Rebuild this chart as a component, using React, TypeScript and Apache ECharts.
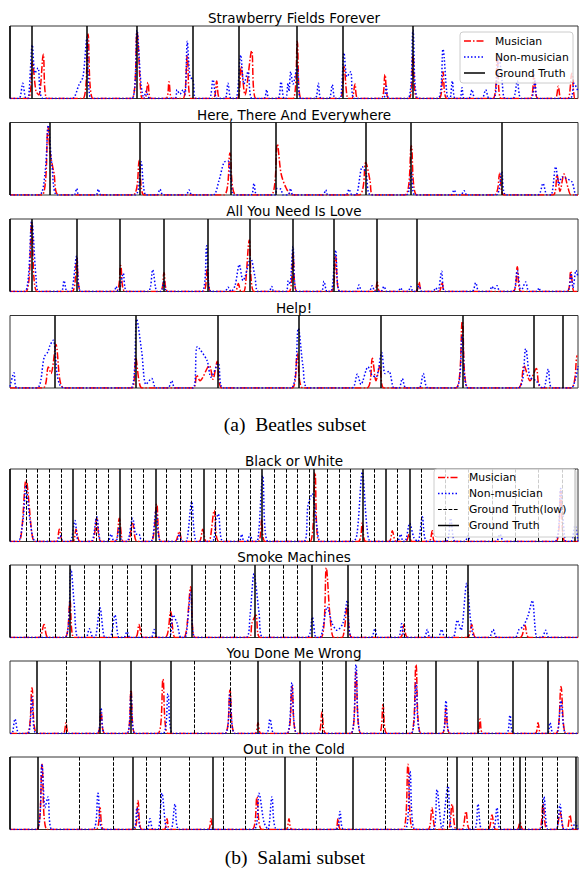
import React, { useEffect, useRef } from 'react';
import * as echarts from 'echarts';

type Pt = [number, number];

const songTitles = [
  'Strawberry Fields Forever',
  'Here, There And Everywhere',
  'All You Need Is Love',
  'Help!',
  'Black or White',
  'Smoke Machines',
  'You Done Me Wrong',
  'Out in the Cold',
];

// ---------- Strawberry Fields Forever ----------
const sffTruth = [0, 22, 77, 127, 183, 229, 287, 333, 403];
const sffLow: number[] = [];
const sffMusician: Pt[] = [
  [0, 0], [18, 0], [22.3, 0.51], [26, 0.1], [29, 0.05], [33.3, 0.61], [37, 0],
  [73, 0], [78, 0.89], [83, 0], [122, 0], [127, 0.92], [132, 0], [135, 0], [138, 0.22], [141, 0],
  [156, 0], [159, 0.23], [162, 0], [173, 0], [177.3, 0.6], [181, 0], [203, 0], [206.7, 0.24], [210, 0],
  [227, 0], [231, 0.44], [235, 0.05], [241.7, 0.66], [246, 0], [283, 0], [287.3, 0.79], [291, 0],
  [330, 0], [334, 0.44], [338, 0], [342, 0], [345, 0.2], [348, 0], [371, 0], [375, 0.33], [379, 0],
  [399, 0], [403, 0.6], [407, 0], [429, 0], [433, 0.37], [437, 0], [483, 0], [487.3, 0.6], [491, 0],
  [520, 0], [524, 0.33], [528, 0], [545, 0], [548.3, 0.17], [551, 0], [558, 0], [561.7, 0.35], [565, 0], [568, 0],
];
const sffNonMusician: Pt[] = [
  [0, 0], [9, 0], [12.7, 0.21], [16, 0], [18, 0], [22.3, 0.74], [25, 0.35], [28, 0.42], [33, 0],
  [62, 0], [69, 0.19], [73, 0.3], [77, 0.85], [81, 0], [122, 0], [127, 0.94], [131, 0.2], [134, 0],
  [136, 0.1], [140, 0], [165, 0], [167, 0.12], [170, 0.06], [173, 0.12], [175, 0.05], [177.3, 0.79],
  [180, 0.3], [183, 0.26], [186, 0], [199, 0], [203, 0.26], [207, 0], [215, 0], [218, 0.21], [221, 0],
  [226, 0], [230.7, 0.6], [234, 0.2], [238, 0.37], [242, 0], [254, 0], [256.7, 0.12], [259, 0],
  [268, 0], [271, 0.23], [274, 0], [276, 0], [278, 0.21], [279, 0.1], [280.7, 0.37], [283, 0.2],
  [287.3, 0.44], [291, 0], [305, 0], [308.3, 0.21], [311, 0], [319, 0], [322.3, 0.19], [325, 0],
  [330, 0], [334, 0.63], [337, 0.3], [340.7, 0.37], [344, 0], [373, 0], [376.3, 0.17], [379, 0],
  [398, 0], [403, 0.94], [408, 0], [428, 0], [433, 0.68], [438, 0], [440, 0], [442.3, 0.24], [445, 0],
  [450, 0], [452, 0.15], [454, 0], [459, 0], [462, 0.12], [465, 0], [472, 0], [475.7, 0.12], [479, 0],
  [484, 0], [489, 0.58], [492, 0.25], [495, 0], [503, 0], [507.3, 0.24], [511, 0], [521, 0], [525, 0.24],
  [528, 0], [560, 0], [564, 0.21], [568, 0.1],
];

// ---------- Here, There And Everywhere ----------
const htaeTruth = [0, 39.3, 130, 220.7, 265.3, 355.7, 400.7, 491.7];
const htaeLow: number[] = [];
const htaeMusician: Pt[] = [
  [0, 0], [32, 0], [38, 0.94], [40, 0.6], [44, 0.3], [49, 0], [123, 0], [129.3, 0.48], [134, 0],
  [214, 0], [220, 0.58], [226, 0], [261, 0], [267.3, 0.7], [271, 0.3], [276, 0.1], [282, 0],
  [349, 0], [355.7, 0.45], [360, 0.2], [363, 0], [395, 0], [401.3, 0.68], [407, 0],
  [484, 0], [489.7, 0.3], [494, 0], [543, 0], [547, 0.28], [550, 0.05], [554, 0.29], [558, 0.1], [561, 0], [568, 0],
];
const htaeNonMusician: Pt[] = [
  [0, 0], [29, 0], [35, 0.3], [38.3, 0.96], [42, 0.4], [47, 0], [64, 0], [66.7, 0.09], [69, 0],
  [86, 0], [88.3, 0.08], [91, 0], [125, 0], [131, 0.46], [136, 0], [147, 0], [150, 0.08], [153, 0],
  [176, 0], [179, 0.07], [182, 0], [203, 0], [209, 0.2], [214, 0.45], [218, 0.47], [221, 0.2], [224, 0],
  [241, 0], [244, 0.16], [247, 0], [265, 0], [267, 0.09], [271, 0.08], [273, 0], [278, 0], [280.7, 0.09],
  [283, 0], [313, 0], [315.7, 0.07], [318, 0], [336, 0], [339, 0.08], [342, 0], [346, 0], [352.3, 0.39],
  [356, 0.3], [361, 0], [396, 0], [401.3, 0.32], [405, 0], [441, 0], [444, 0.07], [447, 0], [451, 0],
  [454, 0.06], [457, 0], [486, 0], [491.7, 0.32], [496, 0], [528, 0], [533, 0.16], [537, 0], [541, 0],
  [545.7, 0.39], [549, 0.15], [552, 0.25], [556, 0.23], [562, 0.18], [566, 0], [568, 0],
];

// ---------- All You Need Is Love ----------
const aynilTruth = [0, 21.7, 66.7, 110, 153.3, 197.3, 239.3, 282.3, 324, 366.7, 406.7];
const aynilLow: number[] = [];
const aynilMusician: Pt[] = [
  [0, 0], [16, 0], [21.7, 0.95], [27, 0], [62, 0], [66.7, 0.47], [71, 0], [106, 0], [110.7, 0.36], [115, 0],
  [150, 0], [154, 0.26], [158, 0], [193, 0], [197.3, 0.32], [201, 0], [225, 0], [228.3, 0.11], [231, 0],
  [234, 0], [239.3, 0.71], [244, 0], [279, 0], [283, 0.53], [287, 0], [321, 0], [325.7, 0.48], [330, 0],
  [364, 0], [367.3, 0.13], [370, 0], [406, 0], [409, 0.13], [412, 0], [429, 0], [432, 0.13], [435, 0],
  [503, 0], [507.3, 0.34], [511, 0], [557, 0], [560.7, 0.28], [564, 0], [568, 0],
];
const aynilNonMusician: Pt[] = [
  [0, 0], [15, 0], [21.7, 0.97], [26, 0.2], [29, 0], [51, 0], [54, 0.15], [57, 0], [61, 0], [66.7, 0.49],
  [71, 0], [104, 0], [106, 0.07], [108, 0], [110, 0.05], [113.3, 0.25], [117, 0], [138, 0], [142.7, 0.3],
  [147, 0], [151, 0], [154, 0.15], [157, 0], [192, 0], [196.7, 0.63], [201, 0], [215, 0], [218, 0.06],
  [221, 0], [225, 0.08], [229.3, 0.37], [233, 0.15], [235, 0.2], [240.7, 0.46], [245, 0.2], [248, 0],
  [259, 0], [261.7, 0.07], [264, 0], [276, 0], [278.3, 0.15], [280, 0.1], [283, 0.62], [287, 0],
  [311, 0], [314, 0.14], [317, 0], [321, 0], [325.7, 0.57], [330, 0], [346, 0], [349, 0.09], [352, 0],
  [359, 0], [362.3, 0.08], [365, 0], [371, 0], [374, 0.07], [377, 0], [388, 0], [390.7, 0.05], [393, 0],
  [398, 0], [400.7, 0.07], [403, 0], [406, 0], [409, 0.08], [412, 0], [423, 0], [425.7, 0.05], [428, 0],
  [431.7, 0.28], [435, 0], [462, 0], [465.7, 0.12], [469, 0], [479, 0], [482, 0.07], [484, 0.03],
  [487, 0.08], [490, 0], [503, 0], [507.3, 0.29], [511, 0], [515.7, 0.13], [519, 0], [527, 0], [529, 0.05],
  [531, 0], [557, 0], [561, 0.25], [563, 0.05], [566, 0.29], [568, 0.2],
];

// ---------- Help! ----------
const helpTruth = [44.3, 125.7, 207.3, 288.3, 370.7, 452.3, 524, 552.3];
const helpLow: number[] = [];
const helpMusician: Pt[] = [
  [0, 0], [33, 0], [38.3, 0.29], [41, 0.2], [46, 0.6], [50, 0.1], [54, 0], [122, 0], [125.7, 0.42],
  [129, 0.1], [132, 0], [183, 0], [186.7, 0.18], [190, 0.1], [199.3, 0.31], [203, 0.12], [207.3, 0.37],
  [212, 0], [282, 0], [287.3, 0.48], [293, 0], [357, 0], [362.3, 0.41], [366, 0.1], [370, 0.31], [374, 0],
  [446, 0], [452.3, 0.92], [458, 0], [508, 0], [514, 0.31], [520, 0.1], [526.3, 0.27], [531, 0],
  [561, 0], [567.3, 0.45], [568, 0.45],
];
const helpNonMusician: Pt[] = [
  [0, 0.02], [4, 0.21], [7, 0], [27, 0], [34.3, 0.43], [38, 0.5], [40, 0.59], [43.3, 0.66], [47, 0.2],
  [50, 0.04], [55, 0], [121, 0], [126.7, 0.95], [131.7, 0.5], [136, 0.05], [141.7, 0.13], [146, 0],
  [158, 0], [161.7, 0.1], [165, 0], [183, 0], [187.3, 0.57], [197, 0.38], [201, 0.15], [208.3, 0.34],
  [213, 0], [281, 0], [288.3, 0.82], [293, 0.3], [298, 0], [342, 0], [347.3, 0.19], [351, 0.05],
  [358, 0.29], [362, 0.18], [366, 0.15], [371.7, 0.49], [375, 0.2], [379, 0.23], [384, 0], [389, 0],
  [392.3, 0.13], [396, 0], [409, 0], [413.3, 0.2], [418, 0], [446, 0], [452.3, 0.73], [458, 0],
  [508, 0], [515.7, 0.54], [520, 0.15], [526, 0.1], [533, 0], [534, 0], [538.3, 0.26], [542, 0],
  [561, 0], [565, 0.1], [568, 0.3],
];

// ---------- Black or White ----------
const bowTruth = [0, 62.7, 110, 146, 193.3, 252, 304, 352.3, 375.7, 399.7, 565];
const bowLow = [16, 27.3, 39.3, 51, 75, 86.7, 98.3, 121.7, 133.3, 156.7, 170, 181.7, 205, 216.7, 228.3,
  240, 264, 276, 287.3, 299, 317.3, 329, 340.7, 364, 387.3, 411.7, 435, 458, 482, 505, 528, 552];
const bowMusician: Pt[] = [
  [0, 0], [9, 0], [16, 0.85], [22, 0.1], [25, 0], [46, 0], [49.3, 0.17], [53, 0], [63, 0], [66, 0.17],
  [70, 0], [82, 0], [86.7, 0.32], [91, 0], [105, 0], [109.3, 0.32], [113, 0], [118, 0], [122.7, 0.25],
  [127, 0], [141, 0], [146.7, 0.52], [151, 0], [165, 0], [169.3, 0.14], [173, 0], [189, 0], [192.7, 0.17],
  [196, 0], [199, 0], [204.3, 0.43], [209, 0], [248, 0], [251.7, 0.31], [255, 0], [300, 0], [305, 0.95],
  [309, 0], [348, 0], [352.3, 0.26], [356, 0], [379, 0], [382.3, 0.15], [386, 0], [396, 0], [399, 0.1],
  [402, 0], [419, 0], [422.3, 0.15], [425, 0], [546, 0], [550.7, 0.7], [555, 0], [568, 0],
];
const bowNonMusician: Pt[] = [
  [0, 0], [8, 0], [13, 0.3], [16, 0.77], [20, 0.3], [26, 0], [47, 0], [50, 0.08], [53, 0], [60, 0],
  [65, 0.29], [69, 0], [81, 0], [86.7, 0.34], [91, 0], [98, 0], [101, 0.1], [104, 0], [106, 0],
  [109.3, 0.2], [112, 0], [117, 0], [122.7, 0.32], [126, 0.1], [129, 0.1], [132, 0], [141, 0],
  [146, 0.43], [151, 0], [166, 0], [169.3, 0.1], [172, 0], [176, 0], [181.7, 0.55], [187, 0], [202, 0],
  [206, 0.3], [208.3, 0.38], [213, 0], [229, 0], [231.7, 0.1], [234, 0], [237, 0], [240, 0.1], [243, 0],
  [247, 0], [252.7, 0.91], [258, 0], [294, 0], [298, 0.5], [302.3, 0.66], [307, 0.2], [311, 0],
  [343, 0], [347, 0.1], [352.3, 0.96], [357, 0.2], [361, 0], [387, 0], [390.7, 0.1], [393, 0],
  [395, 0], [399.7, 0.25], [404, 0.05], [408, 0], [412.3, 0.34], [417, 0], [436, 0], [440.7, 0.32],
  [445, 0], [455, 0], [458, 0.08], [461, 0], [486, 0], [490, 0.1], [494, 0], [545, 0], [550.7, 0.73],
  [556, 0], [561, 0], [565, 0.22], [568, 0],
];

// ---------- Smoke Machines ----------
const smTruth = [0, 59.3, 146, 181.7, 245, 301.3, 338, 458];
const smLow = [16.7, 30.7, 45, 74.3, 89, 102.7, 117.3, 131.7, 160.7, 195.7, 210, 224.3, 259.3, 273.3,
  287.3, 351.7, 365.7, 380, 394, 408.3, 422.3, 436.3];
const smMusician: Pt[] = [
  [0, 0], [29, 0], [34, 0.18], [38, 0], [55, 0], [60, 0.51], [64, 0], [125, 0], [129, 0.18], [133, 0],
  [155, 0], [160.7, 0.36], [165, 0], [174, 0], [180.7, 0.7], [185, 0], [239, 0], [242, 0.2], [246, 0.31],
  [250, 0], [311, 0], [316.3, 0.96], [320, 0.3], [324, 0], [332, 0], [337.3, 0.44], [342, 0],
  [390, 0], [394, 0.18], [398, 0], [457, 0], [461.7, 0.18], [466, 0], [510, 0], [515, 0.17], [519, 0], [568, 0],
];
const smNonMusician: Pt[] = [
  [0, 0], [55, 0], [61, 0.94], [64, 0.5], [68, 0], [76, 0], [79.3, 0.12], [83, 0], [85, 0], [90, 0.41],
  [95, 0], [100, 0], [105, 0.31], [109, 0], [114, 0], [117, 0.08], [120, 0], [141, 0], [144, 0.11],
  [147, 0], [159, 0], [163, 0.31], [167, 0.2], [171, 0], [175, 0], [180.7, 0.63], [185, 0], [236, 0],
  [240, 0.3], [244, 0.88], [249, 0.35], [253, 0], [297, 0], [302.3, 0.28], [306, 0], [310, 0],
  [317.3, 0.42], [322, 0.2], [327, 0.1], [333, 0.2], [337.3, 0.51], [342, 0], [361, 0], [365, 0.12],
  [368, 0], [388, 0], [391.7, 0.19], [395, 0], [414, 0], [417.3, 0.11], [420, 0], [428, 0], [431.7, 0.11],
  [435, 0], [443, 0], [447.3, 0.24], [451, 0.1], [456.7, 0.75], [461, 0.2], [465, 0], [479, 0], [483, 0.11],
  [487, 0], [505, 0], [509, 0.11], [513, 0.15], [518, 0.3], [522.3, 0.51], [527, 0], [532, 0], [535.7, 0.1],
  [539, 0], [568, 0],
];

// ---------- You Done Me Wrong ----------
const ydmwTruth = [27, 90, 121, 161, 248, 290, 336, 426, 468, 503, 538];
const ydmwLow = [56, 184, 220, 312, 373, 396];
const ydmwMusician: Pt[] = [
  [0, 0], [17, 0], [22, 0.63], [27, 0], [53, 0], [56, 0.15], [59, 0], [87, 0], [91, 0.3], [95, 0],
  [117, 0], [121, 0.6], [125, 0], [148, 0], [153, 0.75], [158, 0], [215, 0], [220, 0.6], [225, 0],
  [245, 0], [248, 0.15], [251, 0], [277, 0], [282, 0.65], [287, 0], [308, 0], [312, 0.3], [316, 0],
  [341, 0], [346, 0.85], [351, 0], [369, 0], [373, 0.4], [377, 0], [401, 0], [406, 0.95], [411, 0],
  [432, 0], [436, 0.35], [440, 0], [467, 0], [470, 0.2], [473, 0], [525, 0], [528, 0.15], [531, 0],
  [546, 0], [551, 0.65], [556, 0], [568, 0],
];
const ydmwNonMusician: Pt[] = [
  [0, 0], [2, 0], [5, 0.2], [9, 0], [18, 0], [22, 0.5], [26, 0], [87, 0], [91, 0.35], [95, 0],
  [117, 0], [121, 0.55], [125, 0], [153, 0], [158, 0.55], [163, 0], [215, 0], [220, 0.55], [225, 0],
  [256, 0], [260, 0.2], [264, 0], [277, 0], [282, 0.7], [287, 0], [341, 0], [346, 0.95], [351, 0],
  [401, 0], [406, 0.7], [411, 0], [432, 0], [436, 0.45], [440, 0], [496, 0], [500, 0.25], [504, 0],
  [537, 0], [540, 0.15], [543, 0], [547, 0], [551, 0.45], [556, 0], [568, 0],
];

// ---------- Out in the Cold ----------
const oitcTruth = [0, 28, 123, 203, 275, 343, 447, 510, 566];
const oitcLow = [69, 103, 136, 150, 179, 213, 235, 306, 375, 437, 462, 478, 490, 503, 515, 532, 547];
const oitcMusician: Pt[] = [
  [0, 0], [27, 0], [32, 0.9], [37, 0], [86, 0], [90, 0.3], [94, 0], [124, 0], [128, 0.4], [132, 0],
  [154, 0], [157, 0.15], [160, 0], [198, 0], [201, 0.15], [204, 0], [242, 0], [247, 0.45], [252, 0],
  [276, 0], [279, 0.15], [282, 0], [325, 0], [328, 0.15], [331, 0], [393, 0], [398, 0.9], [403, 0],
  [418, 0], [422, 0.3], [426, 0], [438, 0], [442, 0.35], [446, 0], [452, 0], [456, 0.25], [460, 0],
  [478, 0], [482, 0.2], [486, 0], [507, 0], [510, 0.1], [513, 0], [529, 0], [533, 0.35], [537, 0],
  [546, 0], [550, 0.25], [554, 0], [557, 0], [560, 0.2], [563, 0], [568, 0],
];
const oitcNonMusician: Pt[] = [
  [0, 0], [27, 0], [32, 0.9], [35, 0.3], [38, 0.45], [42, 0], [83, 0], [88, 0.5], [93, 0], [123, 0],
  [127, 0.3], [131, 0], [137, 0], [140, 0.15], [143, 0], [148, 0], [152, 0.5], [157, 0], [161, 0],
  [165, 0.35], [169, 0], [244, 0], [249, 0.5], [254, 0.1], [258, 0], [262, 0.45], [267, 0], [326, 0],
  [330, 0.25], [334, 0], [395, 0], [400, 0.8], [405, 0], [423, 0], [427, 0.55], [432, 0], [438, 0.6],
  [443, 0], [464, 0], [468, 0.35], [472, 0], [483, 0], [487, 0.3], [491, 0], [530, 0], [534, 0.45],
  [538, 0], [546, 0], [550, 0.35], [554, 0], [562, 0], [565, 0.1], [568, 0],
];

const musicianSets = [sffMusician, htaeMusician, aynilMusician, helpMusician, bowMusician, smMusician, ydmwMusician, oitcMusician];
const nonMusicianSets = [sffNonMusician, htaeNonMusician, aynilNonMusician, helpNonMusician, bowNonMusician, smNonMusician, ydmwNonMusician, oitcNonMusician];
const truthSets = [sffTruth, htaeTruth, aynilTruth, helpTruth, bowTruth, smTruth, ydmwTruth, oitcTruth];
const lowSets = [sffLow, htaeLow, aynilLow, helpLow, bowLow, smLow, ydmwLow, oitcLow];

const legendItems = ['Musician', 'Non-musician', 'Ground Truth(low)', 'Ground Truth'];
const captions = ['(a)  Beatles subset', '(b)  Salami subset'];

// layout
const PLOT_LEFT = 10;
const PLOT_WIDTH = 568;
const PLOT_HEIGHT = 72.5;
const plotTops = [26, 122.5, 219, 315.5, 469, 565, 661, 757];
const X_MAX = 568;

const RED = '#ff0000';
const BLUE = '#0000ff';
const SANS = 'DejaVu Sans';
const SERIF = 'Liberation Serif';

function legendGraphic(x: number, y: number, w: number, h: number, rowYs: number[], items: string[], kinds: string[]) {
  const children: any[] = [
    { type: 'rect', shape: { x, y, width: w, height: h, r: 3 }, style: { fill: 'rgba(255,255,255,0.8)', stroke: '#cccccc', lineWidth: 1 }, z: 100 },
  ];
  items.forEach((label, i) => {
    const ry = rowYs[i];
    const k = kinds[i];
    const stroke = k === 'm' ? RED : k === 'n' ? BLUE : '#000';
    const lineDash = k === 'm' ? [7, 2, 1.5, 2] : k === 'n' ? [1.5, 2] : k === 'l' ? [3.7, 1.6] : null;
    children.push({
      type: 'line',
      shape: { x1: x + 4, y1: ry, x2: x + 25, y2: ry },
      style: { stroke, lineWidth: k === 'l' ? 1 : 1.5, lineDash },
      z: 101,
    });
    children.push({
      type: 'text',
      x: x + 35,
      y: ry,
      style: { text: label, fill: '#000', font: `10.8px "${SANS}"`, textVerticalAlign: 'middle', textAlign: 'left' },
      z: 101,
    });
  });
  return children;
}

export default function App() {
  const ref = useRef<HTMLDivElement>(null);
  useEffect(() => {
    document.body.style.margin = '0';
    const chart = echarts.init(ref.current!, null, { renderer: 'svg' });
    const series: any[] = [];
    plotTops.forEach((_, i) => {
      series.push({
        type: 'line',
        xAxisIndex: i,
        yAxisIndex: i,
        data: [],
        silent: true,
        z: 1,
        markLine: {
          silent: true,
          symbol: ['none', 'none'],
          label: { show: false },
          animation: false,
          emphasis: { disabled: true },
          data: [
            ...lowSets[i].map((v) => ({ xAxis: v, lineStyle: { color: '#000', width: 1, type: [3.7, 1.6], opacity: 1 } })),
            ...truthSets[i].map((v) => ({ xAxis: v, lineStyle: { color: '#000', width: 1.5, type: 'solid', opacity: 1 } })),
          ],
        },
      });
      series.push({
        type: 'line',
        name: 'Musician',
        xAxisIndex: i,
        yAxisIndex: i,
        data: musicianSets[i],
        symbol: 'none',
        showSymbol: false,
        smooth: 0.3,
        silent: true,
        z: 2,
        lineStyle: { color: RED, width: 1.5, type: [7, 2, 1.5, 2] },
      });
      series.push({
        type: 'line',
        name: 'Non-musician',
        xAxisIndex: i,
        yAxisIndex: i,
        data: nonMusicianSets[i],
        symbol: 'none',
        showSymbol: false,
        smooth: 0.3,
        silent: true,
        z: 3,
        lineStyle: { color: BLUE, width: 1.5, type: [1.5, 2] },
      });
    });

    const graphic: any[] = [];
    plotTops.forEach((t, i) => {
      graphic.push({
        type: 'text',
        x: PLOT_LEFT + PLOT_WIDTH / 2,
        y: t - 8,
        style: { text: songTitles[i], fill: '#000', font: `13.5px "${SANS}"`, textAlign: 'center', textVerticalAlign: 'middle' },
        z: 100,
      });
    });
    graphic.push({
      type: 'text', x: 295, y: 424,
      style: { text: captions[0], fill: '#000', font: `19.5px "${SERIF}"`, textAlign: 'center', textVerticalAlign: 'middle' },
      z: 100,
    });
    graphic.push({
      type: 'text', x: 295, y: 857,
      style: { text: captions[1], fill: '#000', font: `19.5px "${SERIF}"`, textAlign: 'center', textVerticalAlign: 'middle' },
      z: 100,
    });
    graphic.push(...legendGraphic(460, 32, 113, 51, [41, 57, 73], [legendItems[0], legendItems[1], legendItems[3]], ['m', 'n', 't']));
    graphic.push(...legendGraphic(434, 469, 142, 68, [477.5, 493.5, 509.5, 525.5], legendItems, ['m', 'n', 'l', 't']));

    chart.setOption({
      animation: false,
      backgroundColor: '#fff',
      grid: plotTops.map((t) => ({
        left: PLOT_LEFT, top: t, width: PLOT_WIDTH, height: PLOT_HEIGHT,
        show: true, borderColor: '#333', borderWidth: 1, backgroundColor: '#fff',
      })),
      xAxis: plotTops.map((_, i) => ({ type: 'value', gridIndex: i, min: 0, max: X_MAX, show: false })),
      yAxis: plotTops.map((_, i) => ({ type: 'value', gridIndex: i, min: 0, max: 1, show: false })),
      series,
      graphic,
    });
    return () => chart.dispose();
  }, []);
  return <div ref={ref} style={{ width: 579, height: 874 }} />;
}
